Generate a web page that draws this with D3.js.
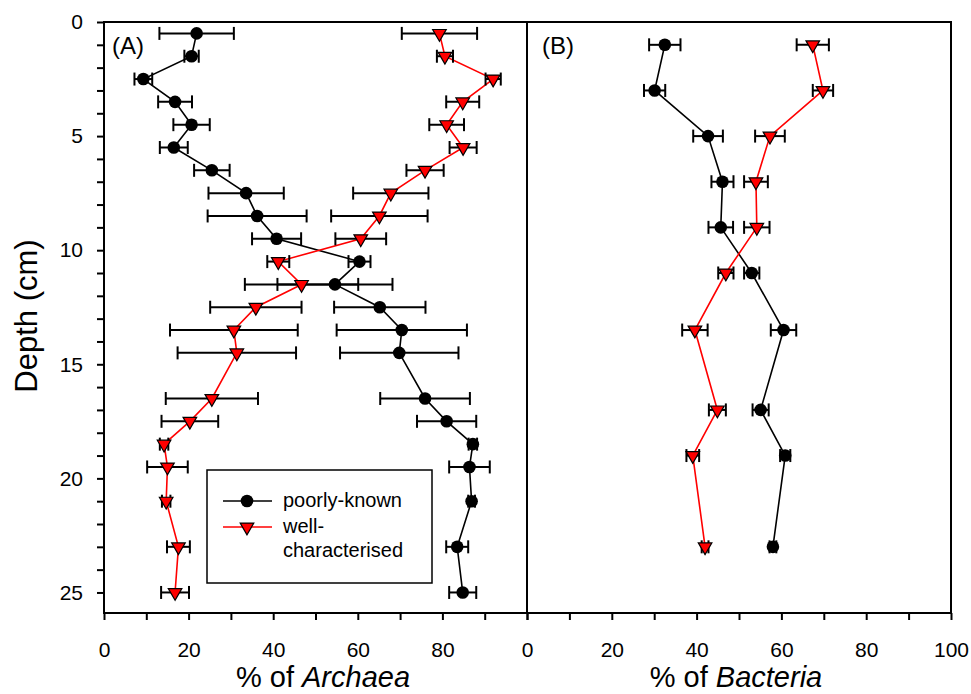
<!DOCTYPE html>
<html>
<head>
<meta charset="utf-8">
<script src="https://cdn.jsdelivr.net/npm/d3@7"></script>
<style>
  body { margin: 0; background: #fff; }
  svg { display: block; font-family: "Liberation Sans", Arial, sans-serif; }
</style>
</head>
<body>
<div id="chart-area"></div>
<script>
// depth profiles, panel A (Archaea) and panel B (Bacteria)
var depthA = [0.5, 1.5, 2.5, 3.5, 4.5, 5.5, 6.5, 7.5, 8.5, 9.5, 10.5, 11.5, 12.5, 13.5, 14.5, 16.5, 17.5, 18.5, 19.5, 21, 23, 25];
var poorA = [21.9, 20.7, 9.3, 16.8, 20.7, 16.5, 25.5, 33.6, 36.2, 40.8, 60.4, 54.6, 65.2, 70.4, 69.8, 75.9, 81.0, 87.2, 86.4, 86.9, 83.5, 84.8];
var poorAErr = [8.8, 1.7, 2.1, 4.0, 4.3, 3.3, 4.2, 8.9, 11.7, 5.8, 2.6, 13.6, 10.8, 15.4, 14.0, 10.6, 7.0, 1.0, 4.8, 0.8, 2.6, 3.2];
var wellA = [79.3, 80.6, 92.0, 84.8, 81.0, 84.9, 75.9, 67.8, 65.1, 60.7, 41.2, 46.7, 35.9, 30.7, 31.4, 25.5, 20.3, 14.2, 15.0, 14.7, 17.6, 16.8];
var wellAErr = [8.9, 1.9, 1.8, 3.9, 4.1, 3.2, 4.4, 8.9, 11.4, 6.0, 2.6, 13.4, 10.8, 15.1, 14.0, 10.9, 6.7, 1.0, 4.8, 1.0, 2.7, 3.3];

var depthB = [1, 3, 5, 7, 9, 11, 13.5, 17, 19, 23];
var poorB = [32.5, 30.1, 42.7, 46.1, 45.7, 53.0, 60.5, 55.1, 60.9, 58.0];
var poorBErr = [3.7, 2.5, 3.5, 2.6, 2.9, 1.8, 3.0, 1.9, 1.2, 0.8];
var wellB = [67.4, 69.8, 57.3, 54.0, 54.2, 46.9, 39.6, 44.9, 39.1, 42.0];
var wellBErr = [3.8, 2.4, 3.5, 2.8, 3.0, 1.8, 3.0, 2.0, 1.5, 0.8];

var yTicks = d3.range(0, 26, 1);
var xTicks = d3.range(0, 101, 10);
var legendLabels = ["poorly-known", "well-", "characterised"];

const svgWidth = 971;
const svgHeight = 694;
var margin = {left: 104, top: 22, right: 20, bottom: 81};
var chartHeight = svgHeight - margin.top - margin.bottom;

var svg = d3.select("#chart-area")
    .append("svg")
    .attr("width", svgWidth)
    .attr("height", svgHeight);

var y = d3.scaleLinear().domain([0, 25.9]).range([margin.top, margin.top + chartHeight]);
var xA = d3.scaleLinear().domain([0, 100]).range([104, 527]);
var xB = d3.scaleLinear().domain([0, 100]).range([527, 951]);
var bottom = margin.top + chartHeight;

// y axis (left of panel A only)
var yAxis = svg.append("g")
    .attr("transform", "translate(" + xA(0) + ",0)")
    .call(d3.axisLeft(y).tickValues(yTicks).tickSize(7).tickSizeOuter(0).tickPadding(14)
        .tickFormat(function(d){ return d % 5 === 0 ? d : ""; }));
yAxis.select(".domain").remove();
yAxis.selectAll("line").attr("stroke-width", 2);
yAxis.selectAll("text").attr("font-size", "21px").attr("fill", "#000")
    .attr("font-family", "Liberation Sans, Arial, sans-serif");

function xAxis(scale, hideLast) {
    var g = svg.append("g")
        .attr("transform", "translate(0," + bottom + ")")
        .call(d3.axisBottom(scale).tickValues(xTicks).tickSize(7).tickSizeOuter(0).tickPadding(22)
            .tickFormat(function(d){
                if (d % 20 !== 0) return "";
                if (hideLast && d === 100) return "";
                return d;
            }));
    g.select(".domain").remove();
    g.selectAll("line").attr("stroke-width", 2);
    g.selectAll("text").attr("font-size", "21px").attr("fill", "#000")
        .attr("font-family", "Liberation Sans, Arial, sans-serif");
}
xAxis(xA, true);
xAxis(xB, false);

// frames
[xA, xB].forEach(function(sc){
    svg.append("rect")
        .attr("x", sc(0)).attr("y", y(0))
        .attr("width", sc(100) - sc(0)).attr("height", bottom - y(0))
        .attr("fill", "none").attr("stroke", "#000").attr("stroke-width", 2);
});

// labels
svg.append("text")
    .attr("transform", "translate(37,316) rotate(-90)")
    .attr("text-anchor", "middle")
    .attr("font-size", "31px")
    .text("Depth (cm)");

var t1 = svg.append("text").attr("x", 323).attr("y", 687).attr("text-anchor", "middle").attr("font-size", "29px");
t1.append("tspan").text("% of ");
t1.append("tspan").attr("font-style", "italic").text("Archaea");
var t2 = svg.append("text").attr("x", 736).attr("y", 687).attr("text-anchor", "middle").attr("font-size", "29px");
t2.append("tspan").text("% of ");
t2.append("tspan").attr("font-style", "italic").text("Bacteria");

svg.append("text").attr("x", 112).attr("y", 54).attr("font-size", "24px").text("(A)");
svg.append("text").attr("x", 542).attr("y", 54).attr("font-size", "24px").text("(B)");

var triangle = d3.symbol().type(d3.symbolTriangle).size(80);

function series(sc, depths, vals, errs, color, marker) {
    var pts = depths.map(function(d, i){ return {d: d, v: vals[i], e: errs[i]}; });
    var line = d3.line().x(function(p){ return sc(p.v); }).y(function(p){ return y(p.d); });
    svg.append("path").datum(pts)
        .attr("d", line)
        .attr("fill", "none")
        .attr("stroke", color)
        .attr("stroke-width", 1.6);

    var eb = svg.append("g").attr("stroke", "#000").attr("stroke-width", 2);
    pts.forEach(function(p){
        var x0 = sc(p.v - p.e), x1 = sc(p.v + p.e), yy = y(p.d);
        eb.append("line").attr("x1", x0).attr("x2", x1).attr("y1", yy).attr("y2", yy);
        eb.append("line").attr("x1", x0).attr("x2", x0).attr("y1", yy - 6.5).attr("y2", yy + 6.5);
        eb.append("line").attr("x1", x1).attr("x2", x1).attr("y1", yy - 6.5).attr("y2", yy + 6.5);
    });

    if (marker === "circle") {
        svg.append("g").selectAll("circle").data(pts).enter()
            .append("circle")
            .attr("cx", function(p){ return sc(p.v); })
            .attr("cy", function(p){ return y(p.d); })
            .attr("r", 6.3)
            .attr("fill", "#000");
    } else {
        svg.append("g").selectAll("path").data(pts).enter()
            .append("path")
            .attr("d", triangle)
            .attr("transform", function(p){ return "translate(" + sc(p.v) + "," + y(p.d) + ") rotate(180)"; })
            .attr("fill", "#ff0000")
            .attr("stroke", "#000")
            .attr("stroke-width", 1.2);
    }
}

series(xA, depthA, poorA, poorAErr, "#000", "circle");
series(xA, depthA, wellA, wellAErr, "#ff0000", "triangle");
series(xB, depthB, poorB, poorBErr, "#000", "circle");
series(xB, depthB, wellB, wellBErr, "#ff0000", "triangle");

// legend
var lg = svg.append("g");
lg.append("rect").attr("x", 207).attr("y", 470).attr("width", 225).attr("height", 113)
    .attr("fill", "#fff").attr("stroke", "#000").attr("stroke-width", 1.5);
lg.append("line").attr("x1", 223).attr("x2", 272).attr("y1", 501).attr("y2", 501)
    .attr("stroke", "#000").attr("stroke-width", 1.6);
lg.append("circle").attr("cx", 247).attr("cy", 501).attr("r", 6.3).attr("fill", "#000");
lg.append("line").attr("x1", 223).attr("x2", 272).attr("y1", 527).attr("y2", 527)
    .attr("stroke", "#ff0000").attr("stroke-width", 1.6);
lg.append("path").attr("d", triangle).attr("transform", "translate(247,527) rotate(180)")
    .attr("fill", "#ff0000").attr("stroke", "#000").attr("stroke-width", 1.2);
lg.append("text").attr("x", 283).attr("y", 507).attr("font-size", "20px").text(legendLabels[0]);
lg.append("text").attr("x", 283).attr("y", 533).attr("font-size", "20px").text(legendLabels[1]);
lg.append("text").attr("x", 283).attr("y", 557).attr("font-size", "20px").text(legendLabels[2]);
</script>
</body>
</html>
